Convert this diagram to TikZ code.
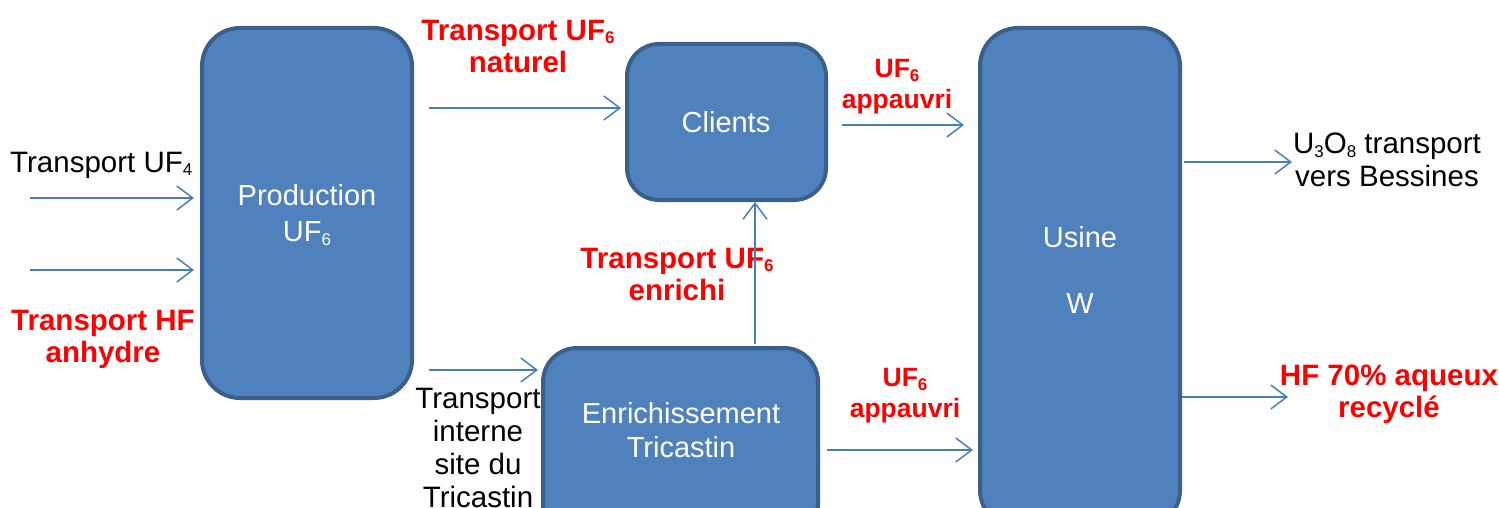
\documentclass[tikz,border=0pt]{standalone}
\usepackage{fontspec}
\setmainfont{Liberation Sans}
\usetikzlibrary{arrows.meta,calc}
\definecolor{boxfill}{HTML}{4F81BD}
\definecolor{boxline}{HTML}{3A5F8B}
\definecolor{arrcol}{HTML}{4A7EBB}
\definecolor{redtxt}{HTML}{FF0000}
\newcommand{\mysub}[1]{\raisebox{-0.12em}{\fontsize{17}{17}\selectfont #1}}
\begin{document}
\begin{tikzpicture}[x=1pt,y=-1pt,
 procbox/.style={draw=boxline, fill=boxfill, line width=4pt, rounded corners=38pt, inner sep=0pt},
 wtext/.style={text=white, font=\fontsize{29}{36}\selectfont, align=center, inner sep=0pt},
 btext/.style={text=black, font=\fontsize{29.5}{33}\selectfont, align=center, inner sep=0pt},
 rtext/.style={text=redtxt, font=\bfseries\fontsize{29.5}{32}\selectfont, align=center, inner sep=0pt},
 rsmall/.style={rtext, font=\bfseries\fontsize{26.5}{31}\selectfont},
 arr/.style={draw=arrcol, line width=1.5pt, -{Straight Barb[length=16pt,width=24pt]}}
]
\useasboundingbox (0,0) rectangle (1499,508);
\clip (0,0) rectangle (1499,508);
% outer labels
\node[btext, anchor=west] (tuf4) at (10,165) {Transport UF\mysub{4}};
\node[rtext] (thf) at (103,339) {Transport HF\\anhydre};
\node[rtext] (tnat) at (518,46) {Transport UF\mysub{6}\\naturel};
\node[rsmall] (app1) at (897,87) {UF\mysub{6}\\appauvri};
\node[rtext] (tenr) at (677,274) {Transport UF\mysub{6}\\enrichi};
\node[btext] (tint) at (478,448) {Transport\\interne\\site du\\Tricastin};
\node[rsmall] (app2) at (905,396) {UF\mysub{6}\\appauvri};
\node[btext] (u3o8) at (1387,160) {U\mysub{3}O\mysub{8} transport\\vers Bessines};
\node[rtext] (hf70) at (1389,394) {HF 70\% aqueux\\recyclé};
% boxes
\path (307,213) node[procbox, minimum width=210pt, minimum height=370pt] (prod) {};
\path (726.5,122) node[procbox, rounded corners=32pt, minimum width=199pt, minimum height=156pt] (cli) {};
\path (680.5,443) node[procbox, rounded corners=34pt, minimum width=275pt, minimum height=190pt] (enr) {};
\path (1080,278) node[procbox, minimum width=200pt, minimum height=500pt] (usine) {};
% connectors
\coordinate (a1s) at (30,198);
\draw[arr, shorten >=6pt] (a1s) -- (a1s -| prod.west);
\coordinate (a2s) at (30,270);
\draw[arr, shorten >=6pt] (a2s) -- (a2s -| prod.west);
\coordinate (a3y) at (0,108);
\draw[arr, shorten <=15pt, shorten >=4pt] (prod.east |- a3y) -- (cli.west |- a3y);
\coordinate (a4y) at (0,125);
\draw[arr, shorten <=14pt, shorten >=14pt] (cli.east |- a4y) -- (usine.west |- a4y);
\coordinate (a5x) at (755,0);
\draw[arr, shorten <=2pt] (enr.north -| a5x) -- (cli.south -| a5x);
\coordinate (a6y) at (0,370);
\draw[arr, shorten <=15pt, shorten >=3pt] (prod.east |- a6y) -- (enr.west |- a6y);
\coordinate (a7y) at (0,450);
\draw[arr, shorten <=7pt, shorten >=5pt] (enr.east |- a7y) -- (usine.west |- a7y);
\coordinate (a8e) at (1292,162);
\draw[arr, shorten <=2pt] (usine.east |- a8e) -- (a8e);
\coordinate (a9e) at (1288,397);
\draw[arr] (usine.east |- a9e) -- (a9e);
% box texts
\node[wtext] (prodt) at (307,215) {Production\\UF\mysub{6}};
\node[wtext] (clit) at (726,122) {Clients};
\node[wtext, font=\fontsize{29}{34}\selectfont] (enrt) at (681,430) {Enrichissement\\Tricastin};
\node[wtext] (usinet) at (1080,270) {Usine\\[30pt]W};
\end{tikzpicture}
\end{document}
